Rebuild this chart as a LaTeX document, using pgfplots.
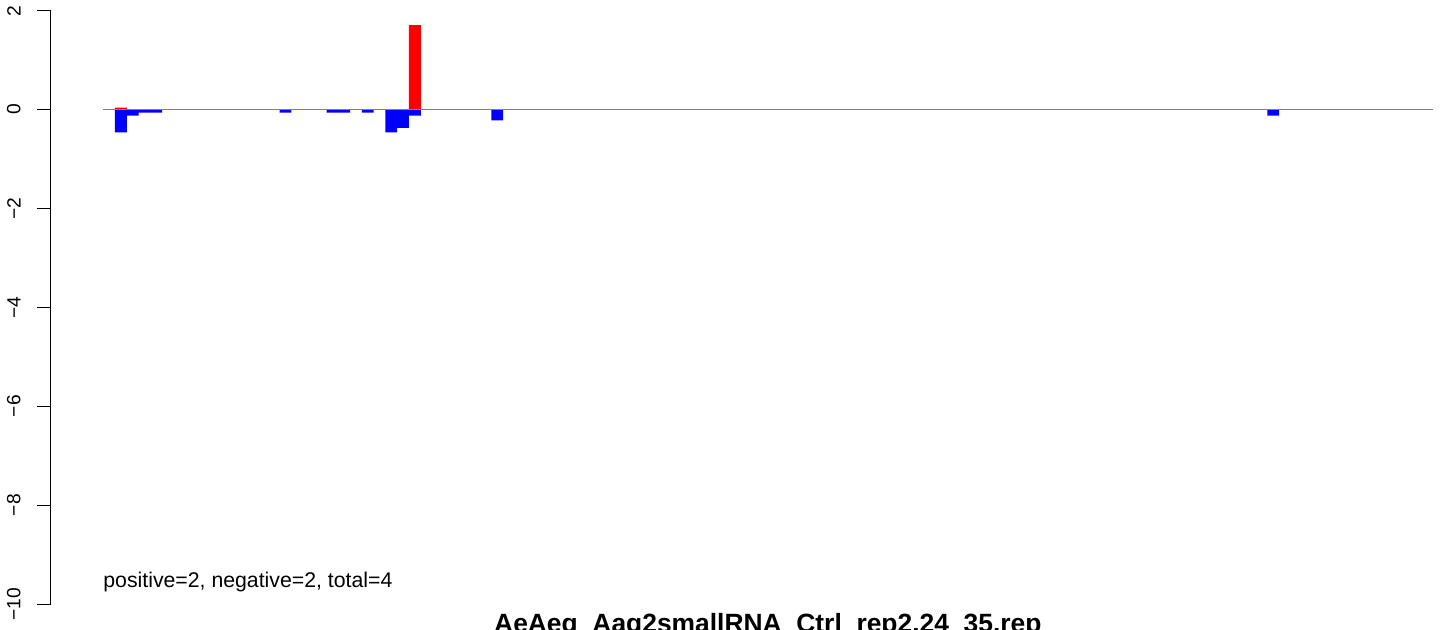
\documentclass[border=0pt]{standalone}
\usepackage{pgfplots}
\pgfplotsset{compat=1.18}
\usepackage{fontspec}
\setmainfont{Liberation Sans}
\begin{document}
\begin{tikzpicture}
\useasboundingbox (0,0) rectangle (722pt,314.5pt);
\begin{axis}[
  at={(51.5pt,12.5pt)}, anchor=south west,
  scale only axis, width=664.85pt, height=296.65pt,
  xmin=-1.52, xmax=111.55, ymin=-10, ymax=2,
  axis x line=none, axis y line*=left,
  axis y line shift=26.15pt,
  ytick={-10,-8,-6,-4,-2,0,2},
  yticklabels={−10,−8,−6,−4,−2,0,2},
  tick align=outside, major tick length=6.75pt,
  yticklabel style={rotate=90, anchor=south, font=\fontsize{9.6}{12}\selectfont},
  yticklabel shift=4.8pt,
  axis line style={line width=0.5pt, black},
  tick style={line width=0.5pt, black},
  clip=false,
]
\addplot[ybar, bar width=1, bar shift=0pt, fill=red, draw=none] coordinates {(0,0.04) (25,1.71)};
\addplot[ybar, bar width=1, bar shift=0pt, fill=blue, draw=none] coordinates {(0,-0.46) (1,-0.12) (2,-0.06) (3,-0.06) (14,-0.06) (18,-0.06) (19,-0.06) (21,-0.06) (23,-0.46) (24,-0.37) (25,-0.12) (32,-0.22) (98,-0.12)};
\addplot[sharp plot, color=gray, line width=0.5pt, no marks] coordinates {(-1.52,0) (111.55,0)};
\node[anchor=base west, inner sep=0pt, font=\fontsize{10.63}{12}\selectfont] at (axis cs:-1.52,-9.656) {positive=2, negative=2, total=4};
\node[anchor=base, inner sep=0pt, font=\fontsize{13.2}{15}\selectfont\bfseries, yshift=-14pt] at (rel axis cs:0.5,0) {AeAeg\_Aag2smallRNA\_Ctrl\_rep2.24\_35.rep};
\end{axis}
\end{tikzpicture}
\end{document}
